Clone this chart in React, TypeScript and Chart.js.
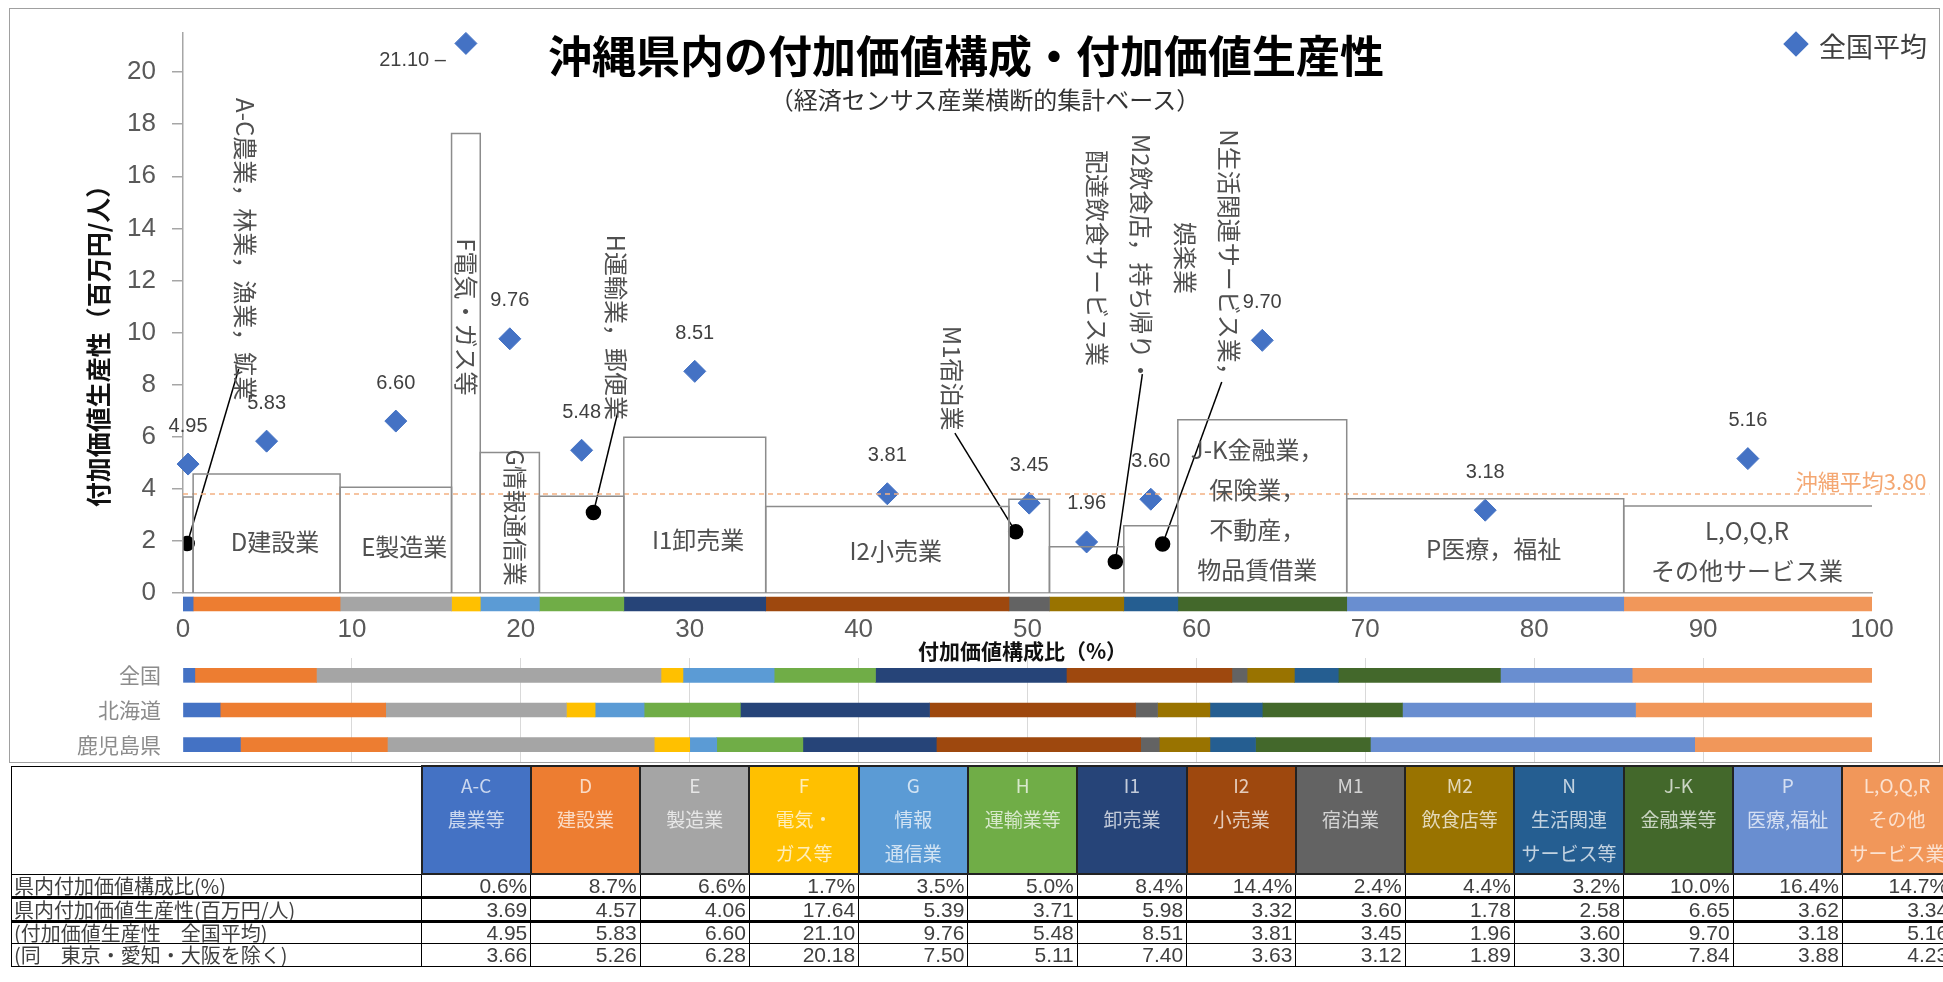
import React, { useEffect, useRef } from 'react';
import { Chart, registerables } from 'chart.js';

Chart.register(...registerables);

const CJK = "'Noto Sans CJK JP', 'Noto Sans', sans-serif";
const NUM = "'Liberation Sans', Arial, sans-serif";
const NARROW = "'Liberation Sans Narrow', 'Arial Narrow', 'Liberation Sans', sans-serif";

// ---------------- data ----------------
const categories = ['A-C', 'D', 'E', 'F', 'G', 'H', 'I1', 'I2', 'M1', 'M2', 'N', 'J-K', 'P', 'L,O,Q,R'];
const headerLines = [
  ['A-C', '農業等'], ['D', '建設業'], ['E', '製造業'], ['F', '電気・', 'ガス等'], ['G', '情報', '通信業'],
  ['H', '運輸業等'], ['I1', '卸売業'], ['I2', '小売業'], ['M1', '宿泊業'], ['M2', '飲食店等'],
  ['N', '生活関連', 'サービス等'], ['J-K', '金融業等'], ['P', '医療,福祉'], ['L,O,Q,R', 'その他', 'サービス業'],
];
const okinawaShare = [0.6, 8.7, 6.6, 1.7, 3.5, 5.0, 8.4, 14.4, 2.4, 4.4, 3.2, 10.0, 16.4, 14.7];
const okinawaProductivity = [3.69, 4.57, 4.06, 17.64, 5.39, 3.71, 5.98, 3.32, 3.60, 1.78, 2.58, 6.65, 3.62, 3.34];
const nationalProductivity = [4.95, 5.83, 6.60, 21.10, 9.76, 5.48, 8.51, 3.81, 3.45, 1.96, 3.60, 9.70, 3.18, 5.16];
const exclBigThreeProductivity = [3.66, 5.26, 6.28, 20.18, 7.50, 5.11, 7.40, 3.63, 3.12, 1.89, 3.30, 7.84, 3.88, 4.23];
const okinawaAverage = 3.8;
const regionLabels = ['全国', '北海道', '鹿児島県'];
const nationalShare = [0.7, 7.2, 20.4, 1.3, 5.4, 6.0, 11.3, 9.8, 0.9, 2.8, 2.6, 9.6, 7.8, 14.2];
const hokkaidoShare = [2.2, 9.8, 10.7, 1.7, 2.9, 5.7, 11.2, 12.2, 1.3, 3.1, 3.1, 8.3, 13.8, 14.0];
const kagoshimaShare = [3.4, 8.7, 15.8, 2.1, 1.6, 5.1, 7.9, 12.1, 1.1, 3.0, 2.7, 6.8, 19.2, 10.5];
const tableRowLabels = ['県内付加価値構成比(%)', '県内付加価値生産性(百万円/人)', '(付加価値生産性　全国平均)', '(同　東京・愛知・大阪を除く)'];
const colors = ['#4472C4', '#ED7D31', '#A5A5A5', '#FFC000', '#5B9BD5', '#70AD47', '#264478', '#9E480E', '#636363', '#997300', '#255E91', '#43682B', '#698ED0', '#F1975A'];

// ---------------- annotation placement (data space) ----------------
const boxLabels = [
  { lines: ['D建設業'], x: 5.45, y: 1.98 },
  { lines: ['E製造業'], x: 13.1, y: 1.79 },
  { lines: ['I1卸売業'], x: 30.5, y: 2.03 },
  { lines: ['I2小売業'], x: 42.2, y: 1.61 },
  { lines: ['J-K金融業，', '保険業，', '不動産，', '物品賃借業'], x: 63.6, y: 3.2 },
  { lines: ['P医療，福祉'], x: 77.6, y: 1.7 },
  { lines: ['L,O,Q,R', 'その他サービス業'], x: 92.6, y: 1.6 },
];
const verticalLabels = [
  { lines: ['A-C農業，林業，漁業，鉱業'], x: 3.67, y: 13.2 },
  { lines: ['F電気・ガス等'], x: 16.78, y: 10.6 },
  { lines: ['G情報通信業'], x: 19.65, y: 2.9 },
  { lines: ['H運輸業，郵便業'], x: 25.64, y: 10.2 },
  { lines: ['M1宿泊業'], x: 45.53, y: 8.25 },
  { lines: ['M2飲食店，持ち帰り・', '配達飲食サービス業'], x: 55.42, y: 12.86 },
  { lines: ['N生活関連サービス業，', '娯楽業'], x: 60.65, y: 12.86 },
];
const callouts = [
  { from: [0.25, 1.9], to: [3.3, 8.6] },
  { from: [24.3, 3.09], to: [25.75, 6.96] },
  { from: [49.3, 2.35], to: [45.7, 6.14] },
  { from: [55.2, 1.2], to: [56.8, 8.4] },
  { from: [58.0, 1.88], to: [61.5, 8.1] },
];
const AVG_LINE_END = 103.4;

const starts: number[] = [];
okinawaShare.forEach((s, i) => starts.push(i === 0 ? 0 : starts[i - 1] + okinawaShare[i - 1]));
const mids = okinawaShare.map((s, i) => starts[i] + s / 2);

const annotationPlugin = {
  id: 'annotations',
  afterDatasetsDraw(chart: any) {
    const { ctx, chartArea } = chart;
    const xs = chart.scales.x;
    const ys = chart.scales.y;
    ctx.save();
    ctx.fillStyle = '#505050';
    ctx.font = `24px ${CJK}`;
    ctx.textAlign = 'center';
    ctx.textBaseline = 'middle';
    boxLabels.forEach((l) => {
      const px = xs.getPixelForValue(l.x);
      const py = ys.getPixelForValue(l.y);
      l.lines.forEach((t, i) => ctx.fillText(t, px, py + (i - (l.lines.length - 1) / 2) * 40));
    });
    verticalLabels.forEach((l) => {
      ctx.save();
      ctx.translate(xs.getPixelForValue(l.x), ys.getPixelForValue(l.y));
      ctx.rotate(Math.PI / 2);
      l.lines.forEach((t, i) => ctx.fillText(t, 0, (i - (l.lines.length - 1) / 2) * 44));
      ctx.restore();
    });
    // value labels of national average
    ctx.font = `20px ${NUM}`;
    ctx.fillStyle = '#404040';
    nationalProductivity.forEach((v, i) => {
      const px = xs.getPixelForValue(mids[i]);
      const py = ys.getPixelForValue(v);
      if (v > ys.max - 1) {
        ctx.textAlign = 'right';
        ctx.fillText(v.toFixed(2) + ' –', px - 20, py + 17);
      } else {
        ctx.textAlign = 'center';
        ctx.fillText(v.toFixed(2), px, py - 38);
      }
    });
    // okinawa average label
    ctx.font = `22px ${CJK}`;
    ctx.fillStyle = '#F4A772';
    ctx.textAlign = 'right';
    ctx.fillText(`沖縄平均${okinawaAverage.toFixed(2)}`, xs.getPixelForValue(AVG_LINE_END) - 3, ys.getPixelForValue(okinawaAverage) - 12);
    // axis titles
    ctx.fillStyle = '#111';
    ctx.font = `bold 21px ${CJK}`;
    ctx.textAlign = 'center';
    ctx.fillText('付加価値構成比（%）', (chartArea.left + chartArea.right) / 2 - 5, chartArea.bottom + 58);
    ctx.save();
    ctx.translate(chartArea.left - 85, (chartArea.top + chartArea.bottom) / 2 + 27);
    ctx.rotate(-Math.PI / 2);
    ctx.font = `bold 25px ${CJK}`;
    ctx.fillText('付加価値生産性（百万円/人）', 0, 0);
    ctx.restore();
    ctx.restore();
  },
};

function mainConfig(): any {
  const boxes = categories.map((c, i) => ({
    label: c,
    data: [
      { x: starts[i], y: 0 },
      { x: starts[i], y: okinawaProductivity[i] },
      { x: starts[i] + okinawaShare[i], y: okinawaProductivity[i] },
      { x: starts[i] + okinawaShare[i], y: 0 },
    ],
    showLine: true,
    borderColor: '#8c8c8c',
    borderWidth: 1.5,
    pointRadius: 0,
    fill: false,
    tension: 0,
  }));
  const avgLine = {
    label: '沖縄平均',
    data: [{ x: 0, y: okinawaAverage }, { x: AVG_LINE_END, y: okinawaAverage }],
    showLine: true,
    borderColor: '#F4B183',
    borderDash: [5, 4],
    borderWidth: 1.5,
    pointRadius: 0,
    clip: false,
  };
  const calloutSets = callouts.map((c, i) => ({
    label: 'callout' + i,
    data: [{ x: c.from[0], y: c.from[1] }, { x: c.to[0], y: c.to[1] }],
    showLine: true,
    borderColor: '#000',
    borderWidth: 1.5,
    pointRadius: [7, 0],
    pointBackgroundColor: '#000',
    pointBorderColor: '#000',
  }));
  const diamonds = {
    label: '全国平均',
    data: mids.map((m, i) => ({ x: m, y: nationalProductivity[i] })),
    pointStyle: 'rectRot',
    pointRadius: 11,
    backgroundColor: '#4472C4',
    borderColor: '#4472C4',
    borderWidth: 1,
    showLine: false,
    clip: false,
  };
  return {
    type: 'scatter',
    data: { datasets: [...boxes, avgLine, ...calloutSets, diamonds] },
    options: {
      responsive: false,
      animation: false,
      events: [],
      layout: { padding: { left: 0, right: 71, top: 25, bottom: 0 } },
      plugins: { legend: { display: false }, tooltip: { enabled: false }, title: { display: false } },
      scales: {
        x: {
          type: 'linear', min: 0, max: 100,
          ticks: { stepSize: 10, font: { family: NUM, size: 26 }, color: '#595959', padding: 21 },
          grid: { display: true, drawOnChartArea: false, drawTicks: false },
          border: { display: true, color: '#a6a6a6', width: 1.5 },
          afterFit: (s: any) => { s.height = 85; s.paddingLeft = 0; s.paddingRight = 0; },
        },
        y: {
          type: 'linear', min: 0, max: 21.5,
          ticks: { stepSize: 2, includeBounds: false, font: { family: NUM, size: 26 }, color: '#595959', padding: 16 },
          grid: { display: true, drawOnChartArea: false, drawTicks: true, tickLength: 11, color: '#a6a6a6', lineWidth: 1.5 },
          border: { display: true, color: '#a6a6a6', width: 1.5 },
          afterFit: (s: any) => { s.width = 175; s.paddingTop = 0; s.paddingBottom = 0; },
        },
      },
    },
    plugins: [annotationPlugin],
  };
}

function stripeConfig(): any {
  return {
    type: 'bar',
    data: {
      labels: ['沖縄県'],
      datasets: categories.map((c, i) => ({ label: c, data: [okinawaShare[i]], backgroundColor: colors[i], borderWidth: 0, barThickness: 14 })),
    },
    options: {
      indexAxis: 'y', responsive: false, animation: false, events: [],
      layout: { padding: { left: 175, right: 71, top: 0, bottom: 0 } },
      plugins: { legend: { display: false }, tooltip: { enabled: false } },
      scales: {
        x: { type: 'linear', min: 0, max: 100, stacked: true, display: false },
        y: { stacked: true, display: false },
      },
    },
  };
}

function bottomConfig(): any {
  return {
    type: 'bar',
    data: {
      labels: regionLabels,
      datasets: categories.map((c, i) => ({
        label: c,
        data: [nationalShare[i], hokkaidoShare[i], kagoshimaShare[i]],
        backgroundColor: colors[i], borderWidth: 0, barThickness: 14,
      })),
    },
    options: {
      indexAxis: 'y', responsive: false, animation: false, events: [],
      layout: { padding: { left: 0, right: 71, top: 6, bottom: 0 } },
      plugins: { legend: { display: false }, tooltip: { enabled: false } },
      scales: {
        x: {
          type: 'linear', min: 0, max: 100, stacked: true,
          ticks: { display: false, stepSize: 10 },
          grid: {
            drawTicks: false, lineWidth: 1,
            color: (ctx: any) => (ctx.tick && (ctx.tick.value === 0 || ctx.tick.value === 100) ? 'rgba(0,0,0,0)' : '#d9d9d9'),
          },
          border: { display: false },
          afterFit: (s: any) => { s.height = 0; s.paddingLeft = 0; s.paddingRight = 0; },
        },
        y: {
          stacked: true,
          ticks: { font: { family: CJK, size: 21 }, color: '#8c8c8c', padding: 22 },
          grid: { display: false, drawTicks: false },
          border: { display: false },
          afterFit: (s: any) => { s.width = 175; s.paddingTop = 0; s.paddingBottom = 0; },
        },
      },
    },
  };
}

const tableRows = [
  { label: tableRowLabels[0], values: okinawaShare.map((v) => v.toFixed(1) + '%'), height: 23, border: '3px solid #000' },
  { label: tableRowLabels[1], values: okinawaProductivity.map((v) => v.toFixed(2)), height: 24, border: '3px solid #000' },
  { label: tableRowLabels[2], values: nationalProductivity.map((v) => v.toFixed(2)), height: 22, border: '1.5px solid #000' },
  { label: tableRowLabels[3], values: exclBigThreeProductivity.map((v) => v.toFixed(2)), height: 23, border: '1px solid #000' },
];
const COL_W = 109.3;

export default function App() {
  const mainRef = useRef<HTMLCanvasElement>(null);
  const stripeRef = useRef<HTMLCanvasElement>(null);
  const bottomRef = useRef<HTMLCanvasElement>(null);

  useEffect(() => {
    const charts = [
      new Chart(mainRef.current as HTMLCanvasElement, mainConfig()),
      new Chart(stripeRef.current as HTMLCanvasElement, stripeConfig()),
      new Chart(bottomRef.current as HTMLCanvasElement, bottomConfig()),
    ];
    return () => charts.forEach((c) => c.destroy());
  }, []);

  const abs = (o: any) => ({ position: 'absolute' as const, ...o });
  const cellBase = { padding: 0, boxSizing: 'border-box' as const, whiteSpace: 'nowrap' as const, overflow: 'hidden' };

  return (
    <div style={{ position: 'fixed', left: 0, top: 0, width: 1943, height: 982, overflow: 'hidden', background: '#fff', fontFamily: CJK }}>
      <div style={abs({ left: 9, top: 8, width: 1931, height: 755, border: '1.5px solid #a0a0a0', boxSizing: 'border-box' })} />
      <canvas ref={mainRef} width={1935} height={670} style={abs({ left: 8, top: 8 })} />
      <canvas ref={stripeRef} width={1935} height={20} style={abs({ left: 8, top: 594 })} />
      <canvas ref={bottomRef} width={1935} height={110} style={abs({ left: 8, top: 652 })} />

      <div style={abs({ left: 966, top: 54, transform: 'translate(-50%,-50%)', font: `bold 44px ${CJK}`, lineHeight: 1, whiteSpace: 'nowrap', color: '#000' })}>
        沖縄県内の付加価値構成・付加価値生産性
      </div>
      <div style={abs({ left: 985, top: 99, transform: 'translate(-50%,-50%)', font: `24px ${CJK}`, lineHeight: 1, whiteSpace: 'nowrap', color: '#333' })}>
        （経済センサス産業横断的集計ベース）
      </div>
      <div style={abs({ left: 1787, top: 35, width: 18, height: 18, background: '#4472C4', transform: 'rotate(45deg)' })} />
      <div style={abs({ left: 1819, top: 45, transform: 'translateY(-50%)', font: `27px ${CJK}`, lineHeight: 1, whiteSpace: 'nowrap', color: '#404040' })}>
        全国平均
      </div>

      <table style={abs({ left: 11, top: 765, borderCollapse: 'collapse', tableLayout: 'fixed', width: 410 + 14 * COL_W })}>
        <colgroup>
          <col style={{ width: 410 }} />
          {categories.map((c) => <col key={c} style={{ width: COL_W }} />)}
        </colgroup>
        <thead>
          <tr style={{ height: 108 }}>
            <th style={{ ...cellBase, height: 108, border: '1.5px solid #000', background: '#fff' }} />
            {headerLines.map((lines, i) => (
              <th key={categories[i]} style={{ ...cellBase, height: 108, background: colors[i], border: '2px solid #222', color: 'rgba(255,255,255,0.72)', fontWeight: 'normal', fontSize: 19, lineHeight: '34px', verticalAlign: 'top', paddingTop: 1, textAlign: 'center' }}>
                {lines.map((l, j) => <div key={j}>{l}</div>)}
              </th>
            ))}
          </tr>
        </thead>
        <tbody>
          {tableRows.map((r) => (
            <tr key={r.label} style={{ height: r.height }}>
              <td style={{ ...cellBase, height: r.height, borderLeft: '1.5px solid #000', borderRight: '1px solid #000', borderBottom: r.border, fontSize: 20, color: '#404040', paddingLeft: 2, lineHeight: '19px' }}>{r.label}</td>
              {r.values.map((v, i) => (
                <td key={i} style={{ ...cellBase, height: r.height, borderRight: '1px solid #000', borderBottom: r.border, textAlign: 'right', paddingRight: 3, font: `21px ${NARROW}`, color: '#404040', lineHeight: '19px' }}>{v}</td>
              ))}
            </tr>
          ))}
        </tbody>
      </table>
    </div>
  );
}
